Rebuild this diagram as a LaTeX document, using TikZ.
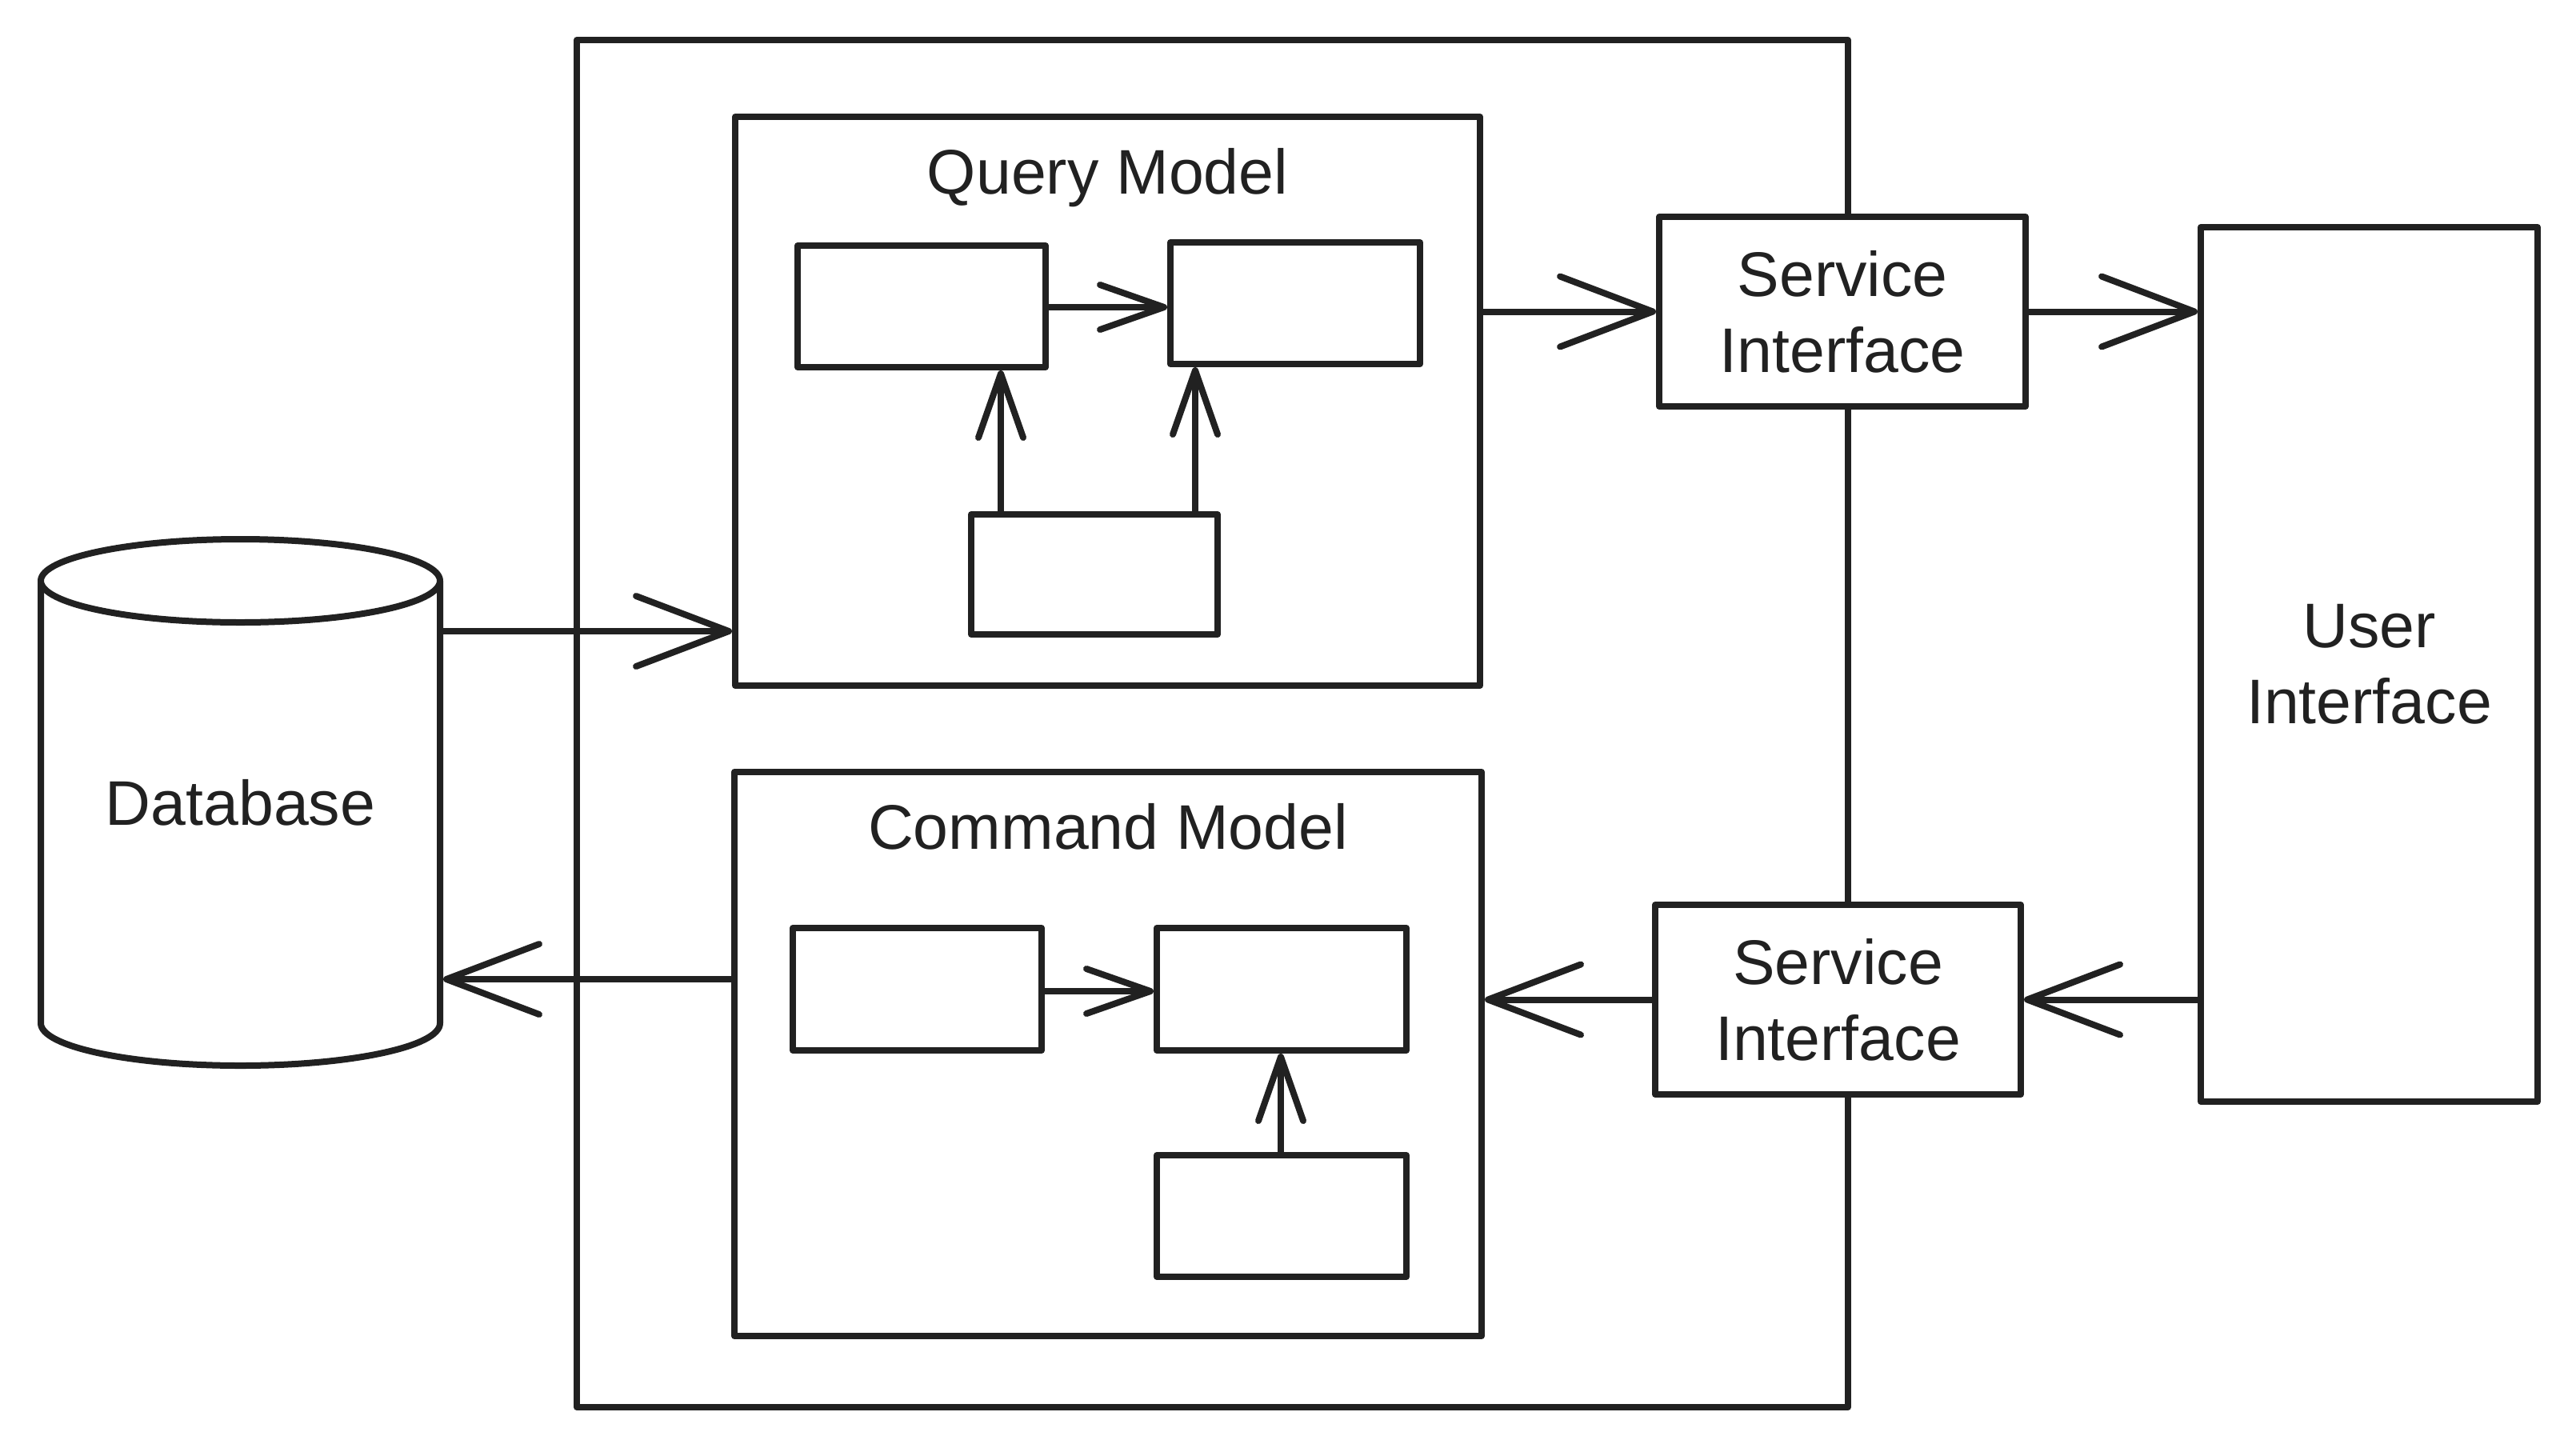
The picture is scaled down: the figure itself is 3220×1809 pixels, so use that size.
\documentclass[tikz,border=0pt]{standalone}
\usepackage{fontspec}
\setmainfont{Liberation Sans}
\usetikzlibrary{arrows.meta}
\definecolor{strokecol}{rgb}{0.13,0.13,0.13}
\tikzset{
  box/.style={draw=strokecol, fill=white, rectangle, inner sep=0pt},
  edge/.style={->, draw=strokecol},
  inedge/.style={-{Straight Barb[length=20pt,width=14pt,round]}, draw=strokecol},
}
\begin{document}
\begin{tikzpicture}[x=0.25pt,y=-0.25pt,>={Straight Barb[length=29pt,width=22pt,round]},line join=round,text=strokecol,
    font=\fontsize{19.7pt}{23.75pt}\selectfont]
  \pgfsetlinewidth{2pt}
  \useasboundingbox (0,0) rectangle (3220,1809);
%%
  % Node: outer
  \node (outer) [box, minimum width=397.25pt, minimum height=427.25pt] at (1515.5,904.5) {};
  % Node: db
\begin{scope}
  \draw [strokecol, fill=white] (51,726) -- (51,1279) arc [start angle=180, end angle=360, x radius=62.375pt, y radius=13.25pt] -- (550,726);
  \draw [strokecol, fill=white] (300.5,726) ellipse [x radius=62.375pt, y radius=13pt];
  \node (db) [inner sep=0pt, minimum width=124.75pt, minimum height=164.5pt] at (300.5,1003) {Database};
\end{scope}
  % Node: qm
\begin{scope}
  \node (qm) [box, minimum width=232.75pt, minimum height=177.75pt] at (1384.5,501.5) {};
  \node (qmtitle) [anchor=base] at (qm.north |- 0,242) {Query Model};
  \node (q1) [box, minimum width=77.5pt, minimum height=38pt] at (1152,383) {};
  \node (q2) [box, minimum width=78pt, minimum height=38pt] at (1619,379) {};
  \node (q3) [box, minimum width=77pt, minimum height=37.5pt] at (1368,718) {};
\end{scope}
  % Node: cm
\begin{scope}
  \node (cm) [box, minimum width=233.5pt, minimum height=176.25pt] at (1385,1317.5) {};
  \node (cmtitle) [anchor=base] at (cm.north |- 0,1061) {Command Model};
  \node (c1) [box, minimum width=77.75pt, minimum height=38.25pt] at (1146.5,1236.5) {};
  \node (c2) [box, minimum width=78pt, minimum height=38.25pt] at (1602,1236.5) {};
  \node (c3) [box, minimum width=78pt, minimum height=38pt] at (1602,1520) {};
\end{scope}
  % Node: si1, si2, ui
  \node (si1) [box, align=center, minimum width=114.5pt, minimum height=59.25pt] at (2303,389.5) {Service\\Interface};
  \node (si2) [box, align=center, minimum width=114.25pt, minimum height=59.25pt] at (2297.5,1249.5) {Service\\Interface};
  \node (ui) [box, align=center, minimum width=105.25pt, minimum height=273.25pt] at (2961.5,830.5) {User\\Interface};
%
  % Edge: db -> qm
  \draw [edge] (db.east |- 0,789) -- (qm.west |- 0,789);
  % Edge: cm -> db
  \draw [edge] (cm.west |- 0,1224) -- (db.east |- 0,1224);
  % Edge: q1 -> q2
  \draw [inedge] (q1.east |- 0,384) -- (q2.west |- 0,384);
  % Edge: q3 -> q1
  \draw [inedge] (q3.north -| 1251,0) -- (q1.south -| 1251,0);
  % Edge: q3 -> q2
  \draw [inedge] (q3.north -| 1494,0) -- (q2.south -| 1494,0);
  % Edge: c1 -> c2
  \draw [inedge] (c1.east |- 0,1239) -- (c2.west |- 0,1239);
  % Edge: c3 -> c2
  \draw [inedge] (c3.north -| 1601,0) -- (c2.south -| 1601,0);
  % Edge: qm -> si1
  \draw [edge] (qm.east |- si1.west) -- (si1.west);
  % Edge: si1 -> ui
  \draw [edge] (si1.east) -- (ui.west |- si1.east);
  % Edge: ui -> si2
  \draw [edge] (ui.west |- si2.east) -- (si2.east);
  % Edge: si2 -> cm
  \draw [edge] (si2.west) -- (cm.east |- si2.west);
%
\end{tikzpicture}
\end{document}
